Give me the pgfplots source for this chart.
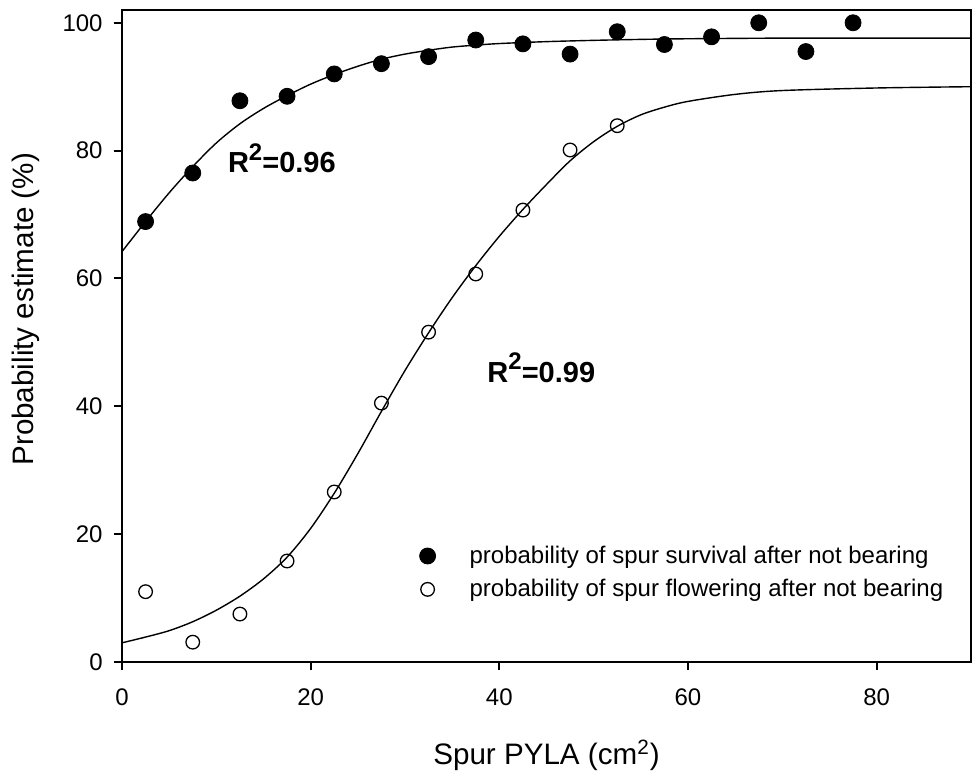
\documentclass[border=0pt]{standalone}
\usepackage{fontspec}
\setmainfont{Liberation Sans}
\usepackage{pgfplots}
\pgfplotsset{compat=1.18}

\begin{document}
\begin{tikzpicture}
\useasboundingbox (0,0) rectangle (488pt,391pt);
\begin{axis}[
  at={(61pt,60pt)}, anchor=south west,
  scale only axis,
  width=424.5pt, height=326pt,
  xmin=0, xmax=90, ymin=0, ymax=102,
  xtick={0,20,40,60,80},
  ytick={0,20,40,60,80,100},
  xtick pos=left, ytick pos=left,
  tick align=outside,
  major tick length=4pt,
  axis line style={line width=1pt},
  tick style={line width=1pt, black},
  /pgf/number format/assume math mode=true,
  ticklabel style={font=\fontsize{12}{14}\selectfont},
  yticklabel style={inner sep=0pt, xshift=-5.5pt},
  xticklabel style={inner sep=0pt, yshift=-9pt},
  xlabel={Spur PYLA (cm\textsuperscript{2})},
  ylabel={Probability estimate (\%)},
  label style={font=\fontsize{14.8}{16}\selectfont},
  xlabel style={at={([yshift=-51.5pt]axis description cs:0.5,0)}, anchor=base},
  ylabel style={at={([xshift=-55pt]axis description cs:0,0.541)}, anchor=north, inner sep=0pt},
  legend style={draw=none, fill=none, at={(axis description cs:0.343,0.137)}, anchor=west,
    font=\fontsize{12}{14}\selectfont, row sep=2.5pt,
    /tikz/every odd column/.append style={column sep=15pt}},
  legend cell align=left,
]
% fitted curves
\addplot[black, line width=0.7pt, smooth, forget plot] coordinates {
(0,64.2) (2.5,68.9) (5,73.4) (7.5,77.5) (10,81.2) (12.5,84.2) (15,86.6)
(17.5,88.6) (20,90.4) (22.5,91.9) (25,93.2) (27.5,94.3) (30,95.1) (32.5,95.7)
(35,96.2) (37.5,96.5) (40,96.75) (45,97.05) (50,97.25) (55,97.4) (60,97.5)
(70,97.6) (80,97.6) (90,97.6)};
\addplot[black, line width=0.7pt, smooth, forget plot] coordinates {
(0,3.0) (2.5,3.9) (5,4.9) (7.5,6.3) (10,8.1) (12.5,10.3) (15,13.0) (17.5,16.4)
(20,20.9) (22.5,26.4) (25,32.6) (27.5,39.2) (30,45.6) (32.5,51.5) (35,57.0)
(37.5,62.0) (40,66.6) (42.5,70.8) (45,74.7) (47.5,78.4) (50,81.4) (52.5,83.8)
(55,85.6) (57.5,86.8) (60,87.7) (65,88.8) (70,89.4) (80,89.8) (90,90.0)};
% observations
\addplot[only marks, mark=*, mark size=4pt, black] coordinates {
(2.5,68.9) (7.5,76.5) (12.5,87.8) (17.5,88.5) (22.5,92.0) (27.5,93.6)
(32.5,94.7) (37.5,97.3) (42.5,96.7) (47.5,95.1) (52.5,98.6) (57.5,96.6)
(62.5,97.8) (67.5,100) (72.5,95.5) (77.5,100)};
\addlegendentry{probability of spur survival after not bearing}
\addplot[only marks, mark=o, mark size=3.4pt, black, mark options={line width=0.65pt}] coordinates {
(2.5,11.0) (7.5,3.1) (12.5,7.5) (17.5,15.8) (22.5,26.6) (27.5,40.5)
(32.5,51.6) (37.5,60.7) (42.5,70.7) (47.5,80.1) (52.5,83.9)};
\addlegendentry{probability of spur flowering after not bearing}
\node[anchor=base west, inner sep=0pt, font=\bfseries\fontsize{14.5}{16}\selectfont]
  at (axis cs:11.2,76.6) {R\raisebox{0.42em}{\fontsize{12}{12}\selectfont 2}=0.96};
\node[anchor=base west, inner sep=0pt, font=\bfseries\fontsize{14.5}{16}\selectfont]
  at (axis cs:38.7,43.8) {R\raisebox{0.42em}{\fontsize{12}{12}\selectfont 2}=0.99};
\end{axis}
\end{tikzpicture}
\end{document}
